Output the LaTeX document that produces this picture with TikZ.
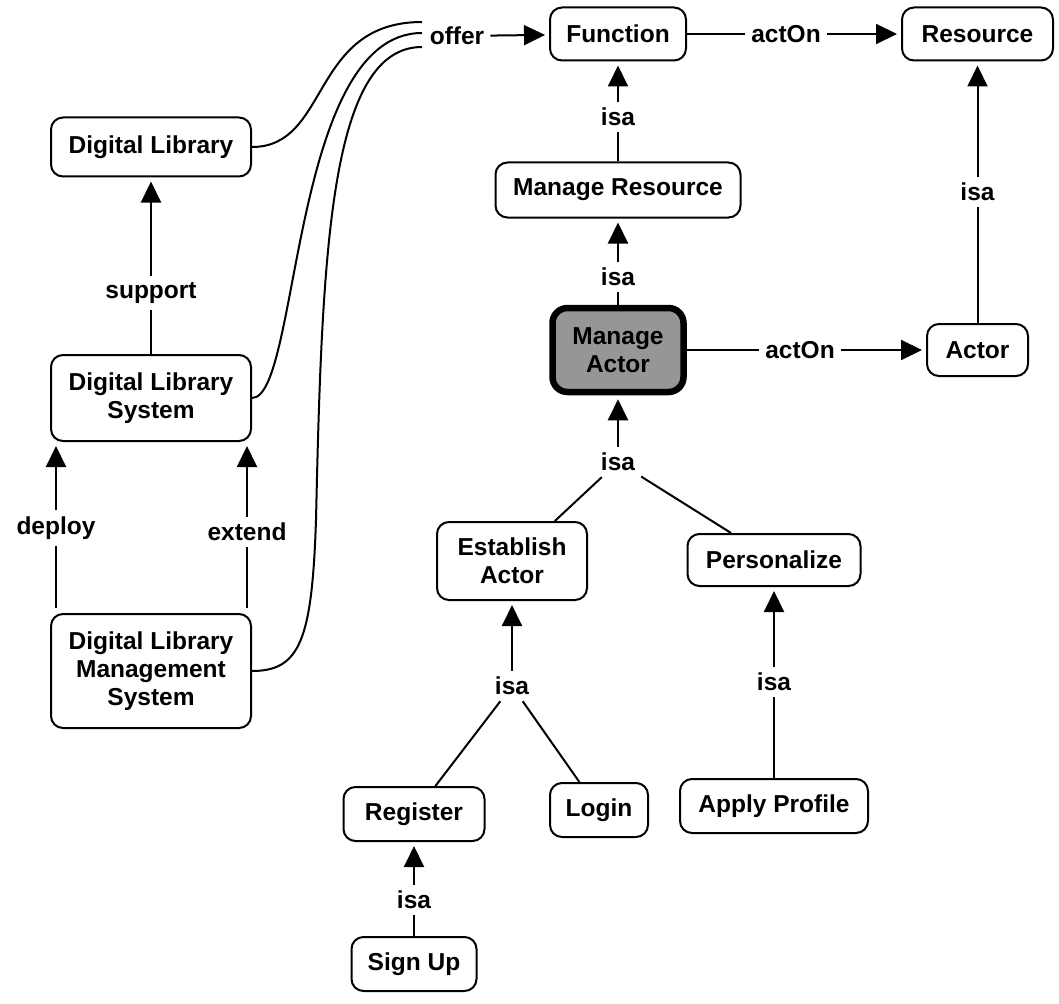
\documentclass[tikz,border=0pt]{standalone}
\usepackage{fontspec}
\setmainfont{Liberation Sans}
\usetikzlibrary{arrows.meta}
\definecolor{magray}{RGB}{150,150,150}
\begin{document}
\begin{tikzpicture}[x=1pt,y=-1pt,
  txt/.style={font=\fontsize{24.5}{28}\selectfont\bfseries},
  box/.style={txt, draw, line width=2pt, rounded corners=12pt, fill=white, align=center, inner sep=0pt},
  lbl/.style={txt, inner sep=6pt},
  ln/.style={line width=2pt},
  arr/.style={line width=2pt, -{Triangle[length=21pt,width=20pt]}, shorten >=4pt},
]
\path[use as bounding box, fill=white] (0,0) rectangle (1059,1003);

% nodes
\node[box, minimum width=136pt, minimum height=53pt] (fn) at (618,34) {Function};
\node[box, minimum width=151pt, minimum height=53pt] (res) at (977.5,34) {Resource};
\node[box, minimum width=200pt, minimum height=59pt] (dl) at (151,147) {Digital Library};
\node[box, minimum width=245pt, minimum height=55pt] (mr) at (618,190) {Manage Resource};
\node[box, minimum width=131pt, minimum height=84pt, fill=magray, line width=6.5pt, rounded corners=15pt] (ma) at (618,350) {Manage\\Actor};
\node[box, minimum width=101pt, minimum height=52pt] (actor) at (977.5,350) {Actor};
\node[box, minimum width=200pt, minimum height=86pt] (dls) at (151,398) {Digital Library\\System};
\node[box, minimum width=200pt, minimum height=114pt] (dlms) at (151,671) {Digital Library\\Management\\System};
\node[box, minimum width=150pt, minimum height=78pt] (est) at (512,561) {Establish\\Actor};
\node[box, minimum width=173pt, minimum height=52pt] (pers) at (774,560) {Personalize};
\node[box, minimum width=141pt, minimum height=54pt] (reg) at (414,814) {Register};
\node[box, minimum width=98pt, minimum height=54pt] (login) at (599,810) {Login};
\node[box, minimum width=188pt, minimum height=54pt] (apply) at (774,806) {Apply Profile};
\node[box, minimum width=125pt, minimum height=54pt] (signup) at (414,964) {Sign Up};

% labels
\node[lbl] (offer) at (457,36) {offer};
\node[lbl] (act1) at (786,34) {actOn};
\node[lbl] (act2) at (800,350) {actOn};
\node[lbl] (isa1) at (618,117) {isa};
\node[lbl] (isa2) at (618,277) {isa};
\node[lbl] (isa3) at (977.5,192) {isa};
\node[lbl] (sup) at (151,293) {support};
\node[lbl] (dep) at (56,528) {deploy};
\node[lbl] (ext) at (247,532) {extend};
\node[lbl] (isaT) at (618,462) {isa};
\node[lbl] (isaE) at (512,686) {isa};
\node[lbl] (isaP) at (774,682) {isa};
\node[lbl] (isaS) at (414,900) {isa};

\coordinate (c1) at (422,22);
\coordinate (c2) at (422,33);
\coordinate (c3) at (422,47);

% offer curves
\draw[ln] (dl.east) .. controls (330,147) and (310,22) .. (c1);
\draw[ln] (dls.east) .. controls (300,398) and (290,33) .. (c2);
\draw[ln] (dlms.east) .. controls (300,671) and (312,640) .. (316,520)
  .. controls (322,250) and (330,47) .. (c3);
\draw[arr] (offer) -- (fn);

% top row
\draw[ln] (fn) -- (act1);
\draw[arr] (act1) -- (res);
\draw[ln] (mr) -- (isa1);
\draw[arr] (isa1) -- (fn);
\draw[ln] (ma) -- (isa2);
\draw[arr] (isa2) -- (mr);
\draw[ln] (actor) -- (isa3);
\draw[arr] (isa3) -- (res);
\draw[ln] (ma) -- (act2);
\draw[arr] (act2) -- (actor);

% left column
\draw[ln] (dls) -- (sup);
\draw[arr] (sup) -- (dl);
\draw[ln, shorten <=5pt] (dlms.north -| dep) -- (dep);
\draw[arr] (dep) -- (dls.south -| dep);
\draw[ln, shorten <=5pt] (dlms.north -| ext) -- (ext);
\draw[arr] (ext) -- (dls.south -| ext);

% lower tree
\draw[ln] (est) -- (isaT);
\draw[ln] (pers) -- (isaT);
\draw[arr] (isaT) -- (ma);
\draw[ln] (reg) -- (isaE);
\draw[ln] (login) -- (isaE);
\draw[arr] (isaE) -- (est);
\draw[ln] (apply) -- (isaP);
\draw[arr] (isaP) -- (pers);
\draw[ln] (signup) -- (isaS);
\draw[arr] (isaS) -- (reg);
\end{tikzpicture}
\end{document}
